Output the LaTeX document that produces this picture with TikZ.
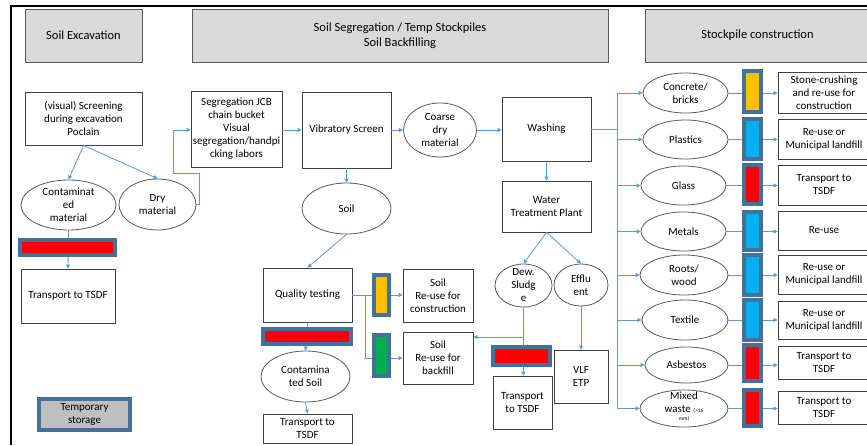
\documentclass[tikz,border=0pt]{standalone}
\usepackage{fontspec}
\setmainfont{Carlito}
\usetikzlibrary{arrows.meta,shapes.geometric}
\definecolor{conc}{HTML}{5B9BD5}
\definecolor{barb}{HTML}{41719C}
\definecolor{boxc}{HTML}{404040}
\definecolor{hdrf}{HTML}{D9D9D9}
\definecolor{ellc}{HTML}{595959}
\definecolor{orbar}{HTML}{FFC000}
\definecolor{blbar}{HTML}{00B0F0}
\definecolor{grbar}{HTML}{00B050}
\definecolor{tmpf}{HTML}{BFBFBF}
\begin{document}
\begin{tikzpicture}[x=1pt,y=-1pt,
  fnt/.style={font=\fontsize{11}{13}\selectfont},
  box/.style={draw=boxc, line width=0.8pt, fill=white, align=center, inner sep=1pt, fnt},
  hdr/.style={draw=ellc, line width=0.8pt, fill=hdrf, align=center, inner sep=1pt, font=\fontsize{12.5}{15}\selectfont},
  ell/.style={draw=ellc, line width=0.8pt, fill=white, ellipse, inner sep=0pt},
  lbl/.style={align=center, inner sep=0pt, fnt},
  bar/.style={draw=barb, line width=4pt, inner sep=0pt},
  conn/.style={draw=conc, line width=0.8pt, -{Triangle[length=4pt,width=4pt]}},
  cline/.style={draw=conc, line width=0.8pt}]
\useasboundingbox (0,0) rectangle (867,445);
\fill[white] (0,0) rectangle (867,445);
% frame
\draw[line width=2pt] (11,445) -- (11,6) -- (867,6);
% headers
\node[hdr, minimum width=117pt, minimum height=53pt] (hse) at (83.5,35.5) {Soil Excavation};
\node[hdr, minimum width=416pt, minimum height=53pt] (hss) at (400,35.5) {Soil Segregation / Temp Stockpiles\\Soil Backfilling};
\node[hdr, minimum width=225pt, minimum height=53pt] (hsc) at (757.5,35.5) {Stockpile construction};
% left column
\node[box, minimum width=117pt, minimum height=53pt] (screen) at (83.5,118.5) {(visual) Screening\\during excavation\\Poclain};
\node[ell, minimum width=95pt, minimum height=50pt] (contam) at (68.5,205) {};
\node[lbl] (contamt) at (contam) {Contaminat\\ed\\material};
\node[ell, minimum width=77pt, minimum height=51pt] (dry) at (157.5,204.5) {};
\node[lbl] (dryt) at (dry) {Dry\\material};
\node[box, minimum width=94pt, minimum height=54pt] (tsdfa) at (68,296) {Transport to TSDF};
% middle top
\node[box, minimum width=91pt, minimum height=76pt] (seg) at (236.5,129) {Segregation JCB\\chain bucket\\Visual\\segregation/handpi\\cking labors};
\node[box, minimum width=89pt, minimum height=76pt] (vib) at (346.5,130) {Vibratory Screen};
\node[ell, minimum width=73pt, minimum height=54pt] (coarse) at (440,130) {};
\node[lbl] (coarset) at (coarse) {Coarse\\dry\\material};
\node[box, minimum width=89pt, minimum height=64pt] (wash) at (546.5,129) {Washing};
\node[box, minimum width=89pt, minimum height=51pt] (wtp) at (546.5,206.5) {Water\\Treatment Plant};
\node[ell, minimum width=89pt, minimum height=51pt] (soil) at (346.5,208.5) {};
\node[lbl] (soilt) at (soil) {Soil};
% middle bottom
\node[box, minimum width=89pt, minimum height=54pt] (qual) at (307.5,295) {Quality testing};
\node[ell, minimum width=89pt, minimum height=51pt] (csoil) at (305.5,376.5) {};
\node[lbl] (csoilt) at (csoil) {Contamina\\ted Soil};
\node[box, minimum width=89pt, minimum height=29pt] (tsdfb) at (307.5,428.5) {Transport to\\TSDF};
\node[box, minimum width=70pt, minimum height=53pt] (sconst) at (438,295.5) {Soil\\Re-use for\\construction};
\node[box, minimum width=70pt, minimum height=52pt] (sback) at (438,358) {Soil\\Re-use for\\backfill};
\node[ell, minimum width=57pt, minimum height=43pt] (dew) at (523.5,285.5) {};
\node[lbl] (dewt) at (dew) {Dew.\\Sludg\\e};
\node[ell, minimum width=54pt, minimum height=42pt] (eff) at (581,285) {};
\node[lbl] (efft) at (eff) {Efflu\\ent};
\node[box, minimum width=59pt, minimum height=53pt] (tsdfc) at (522.5,402.5) {Transport\\to TSDF};
\node[box, minimum width=54pt, minimum height=53pt] (vlf) at (581,376.5) {VLF\\ETP};
% right column ellipses
\node[ell, minimum width=85pt, minimum height=40pt] (e1) at (685.5,93) {};
\node[lbl] (e1t) at (e1) {Concrete/\\bricks};
\node[ell, minimum width=85pt, minimum height=39pt] (e2) at (685.5,139.5) {};
\node[lbl] (e2t) at (e2) {Plastics};
\node[ell, minimum width=85pt, minimum height=39pt] (e3) at (683.5,185.5) {};
\node[lbl] (e3t) at (e3) {Glass};
\node[ell, minimum width=85pt, minimum height=39pt] (e4) at (683.5,231.5) {};
\node[lbl] (e4t) at (e4) {Metals};
\node[ell, minimum width=88pt, minimum height=40pt] (e5) at (684,275) {};
\node[lbl] (e5t) at (e5) {Roots/\\wood};
\node[ell, minimum width=86pt, minimum height=40pt] (e6) at (685,320) {};
\node[lbl] (e6t) at (e6) {Textile};
\node[ell, minimum width=83pt, minimum height=36pt] (e7) at (686.5,365) {};
\node[lbl] (e7t) at (e7) {Asbestos};
\node[ell, minimum width=88pt, minimum height=37pt] (e8) at (684,408.5) {};
\node[lbl] (e8t) at (684,406.5) {Mixed\\waste {\fontsize{5.5}{6}\selectfont (>16}\\[-5pt]{\fontsize{5.5}{6}\selectfont mm)}};
% right column boxes
\node[box, minimum width=92pt, minimum height=41pt] (r1) at (824,92.5) {Stone-crushing\\and re-use for\\construction};
\node[box, minimum width=92pt, minimum height=40pt] (r2) at (824,139) {Re-use or\\Municipal landfill};
\node[box, minimum width=92pt, minimum height=40pt] (r3) at (824,185) {Transport to\\TSDF};
\node[box, minimum width=92pt, minimum height=39pt] (r4) at (824,230.5) {Re-use};
\node[box, minimum width=92pt, minimum height=39pt] (r5) at (824,274.5) {Re-use or\\Municipal landfill};
\node[box, minimum width=92pt, minimum height=38pt] (r6) at (824,320) {Re-use or\\Municipal landfill};
\node[box, minimum width=92pt, minimum height=33pt] (r7) at (824,362.5) {Transport to\\TSDF};
\node[box, minimum width=92pt, minimum height=33pt] (r8) at (824,407.5) {Transport to\\TSDF};
% connectors
\draw[conn] (screen.south) -- (contam.north);
\draw[conn] (screen.south) -- (dry.north);
\coordinate (dj1) at (199,173);
\coordinate (dj2) at (173,130);
\draw[conn] (dry.east) -| (dj1) -| (dj2) -- (seg.west |- dj2);
\draw[conn] (seg.east |- vib.west) -- (vib.west);
\draw[conn] (vib.east) -- (coarse.west);
\draw[conn] (coarse.east) -- (wash.west |- coarse.east);
\draw[conn] (vib.south) -- (soil.north);
\draw[conn] (wash.south) -- (wtp.north);
\draw[conn] (soil.south) -- (qual.north);
\draw[conn] (contam.south) -- (tsdfa.north);
\draw[conn] (qual.south) -- (csoil.north);
\draw[conn] (csoil.south) -- (tsdfb.north);
\draw[conn] (qual.east) -- (sconst.west |- qual.east);
\coordinate (qj) at (365,295);
\draw[conn] (qj) |- (sback.west);
\draw[conn] (wtp.south) -- (dew.north);
\draw[conn] (wtp.south) -- (eff.north);
\draw[conn] (dew.south) -- (dew.south |- tsdfc.north);
\coordinate (dsj) at (523.5,337);
\draw[conn] (dsj) -- (sback.east |- dsj);
\draw[conn] (eff.south) -- (vlf.north);
\coordinate (busj) at (617,129);
\draw[cline] (wash.east) -- (busj);
\foreach \i in {1,...,8} {
  \draw[conn] (busj) |- (e\i.west);
  \draw[conn] (e\i.east) -- (r\i.west |- e\i.east);
}
% bars
\node[bar, fill=red, minimum width=95pt, minimum height=15pt] (bara) at (67.5,247.5) {};
\node[bar, fill=red, minimum width=88pt, minimum height=15pt] (barb) at (307,336.5) {};
\node[bar, fill=orbar, minimum width=15pt, minimum height=40pt] (barc) at (381.5,295) {};
\node[bar, fill=grbar, minimum width=15pt, minimum height=41pt] (bard) at (381.5,355.5) {};
\node[bar, fill=red, minimum width=57pt, minimum height=18pt] (bare) at (521.5,356) {};
\node[bar, fill=orbar, minimum width=17pt, minimum height=41pt] (b1) at (752.5,91.5) {};
\node[bar, fill=blbar, minimum width=17pt, minimum height=40pt] (b2) at (752.5,139) {};
\node[bar, fill=red, minimum width=17pt, minimum height=39pt] (b3) at (752.5,184.5) {};
\node[bar, fill=blbar, minimum width=17pt, minimum height=38pt] (b4) at (752.5,231) {};
\node[bar, fill=blbar, minimum width=17pt, minimum height=40pt] (b5) at (752.5,275) {};
\node[bar, fill=blbar, minimum width=17pt, minimum height=40pt] (b6) at (752.5,320) {};
\node[bar, fill=red, minimum width=17pt, minimum height=36pt] (b7) at (752.5,363) {};
\node[bar, fill=red, minimum width=17pt, minimum height=36pt] (b8) at (752.5,408) {};
\node[bar, fill=tmpf, minimum width=91pt, minimum height=31pt, align=center, fnt] (temp) at (84.5,414.5) {Temporary\\storage};
\end{tikzpicture}
\end{document}
